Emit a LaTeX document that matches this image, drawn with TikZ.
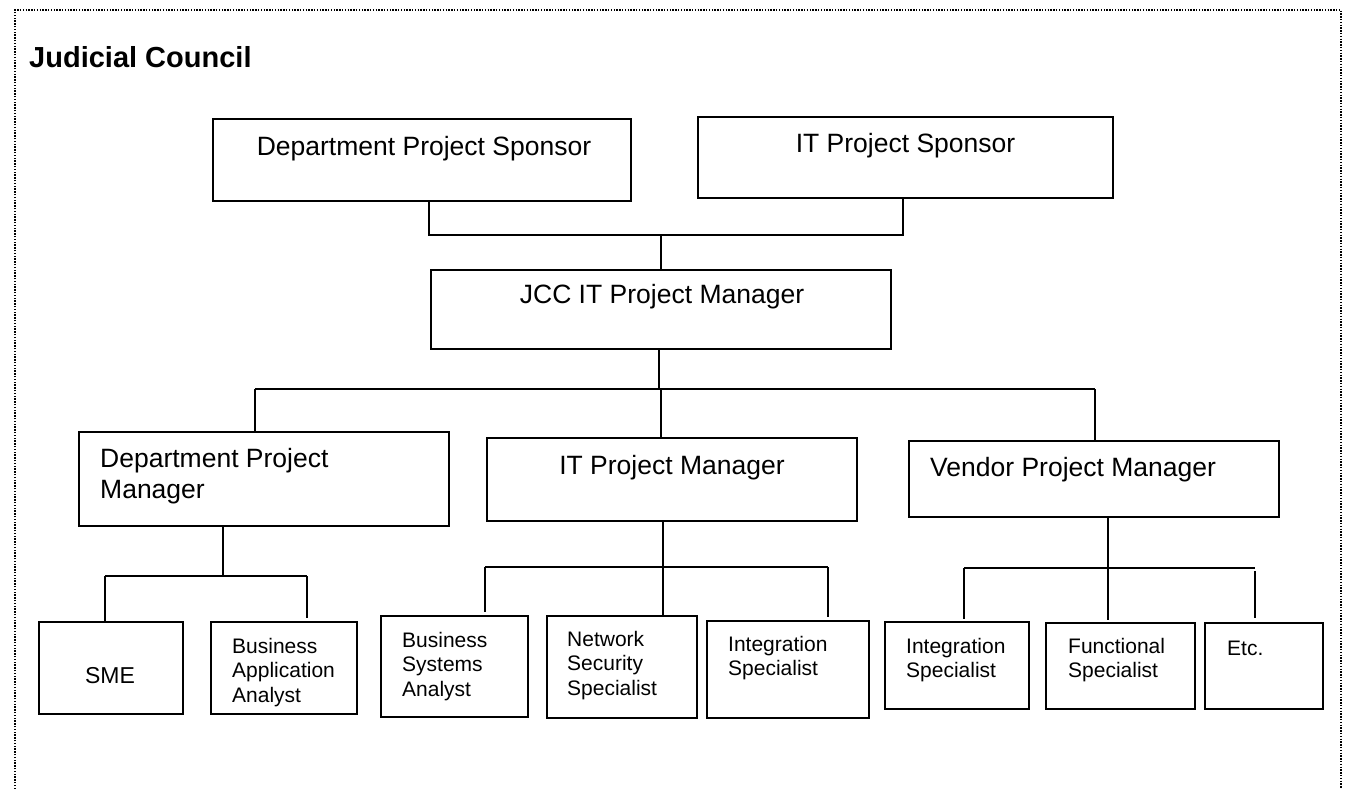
\documentclass[tikz,border=0pt]{standalone}
\usepackage{fontspec}
\setmainfont{Liberation Sans}
\begin{document}
\begin{tikzpicture}[x=1pt,y=-1pt,
  box/.style={draw=black, line width=2pt, inner sep=0pt},
  link/.style={draw=black, line width=2pt},
  frame/.style={draw=black, line width=1.5pt, dash pattern=on 1.4pt off 1.4pt},
  bigtext/.style={font=\fontsize{26.5}{31}\selectfont, inner sep=0pt},
  smalltext/.style={font=\fontsize{21}{24.5}\selectfont, inner sep=0pt, align=left},
  titletext/.style={font=\fontsize{29}{34}\selectfont\bfseries, inner sep=0pt}]

\useasboundingbox (0,0) rectangle (1346,789);

% dotted outer frame, open at the bottom
\coordinate (fbl) at (15,789);
\coordinate (ftl) at (15,10);
\coordinate (ftr) at (1341,10);
\coordinate (fbr) at (1341,789);
\draw[frame] (fbl) -- (ftl) -- (ftr) -- (fbr);

\node[titletext, anchor=base west] (title) at (29,68) {Judicial Council};

% sponsors
\node[box, minimum width=418pt, minimum height=82pt] (dps) at (422,160) {};
\node[box, minimum width=415pt, minimum height=81pt] (its) at (905.5,157.5) {};
\node[bigtext, anchor=base] (dpsT) at (424,155) {Department Project Sponsor};
\node[bigtext, anchor=base] (itsT) at (905.5,153) {IT Project Sponsor};

% JCC manager
\node[box, minimum width=460pt, minimum height=79pt] (jcc) at (661,309.5) {};
\node[bigtext, anchor=base] (jccT) at (662,303) {JCC IT Project Manager};

% second level managers
\node[box, minimum width=370pt, minimum height=94pt] (dpm) at (264,479) {};
\node[bigtext, align=left, anchor=north west] (dpmT) at (100,448) {Department Project\\Manager};
\node[box, minimum width=370pt, minimum height=83pt] (itpm) at (672,479.5) {};
\node[bigtext, anchor=base] (itpmT) at (672,474) {IT Project Manager};
\node[box, minimum width=370pt, minimum height=76pt] (vpm) at (1094,479) {};
\node[bigtext, anchor=base west] (vpmT) at (930,476) {Vendor Project Manager};

% department team
\node[box, minimum width=144pt, minimum height=92pt] (sme) at (111,668) {};
\node[font=\fontsize{23}{27}\selectfont, inner sep=0pt, anchor=base] (smeT) at (110,683) {SME};
\node[box, minimum width=146pt, minimum height=92pt] (baa) at (284,668) {};
\node[smalltext, anchor=north west] (baaT) at (232,638) {Business\\Application\\Analyst};

% IT team
\node[box, minimum width=147pt, minimum height=101pt] (bsa) at (454.5,666.5) {};
\node[smalltext, anchor=north west] (bsaT) at (402,632) {Business\\Systems\\Analyst};
\node[box, minimum width=150pt, minimum height=102pt] (nss) at (622,667) {};
\node[smalltext, anchor=north west] (nssT) at (567,631) {Network\\Security\\Specialist};
\node[box, minimum width=162pt, minimum height=97pt] (iis) at (788,669.5) {};
\node[smalltext, anchor=north west] (iisT) at (728,636) {Integration\\Specialist};

% vendor team
\node[box, minimum width=144pt, minimum height=87pt] (vis) at (957,665.5) {};
\node[smalltext, anchor=north west] (visT) at (906,638) {Integration\\Specialist};
\node[box, minimum width=149pt, minimum height=86pt] (fs) at (1120.5,666) {};
\node[smalltext, anchor=north west] (fsT) at (1068,638) {Functional\\Specialist};
\node[box, minimum width=118pt, minimum height=86pt] (etc) at (1264,666) {};
\node[smalltext, anchor=base west] (etcT) at (1227,655) {Etc.};

% sponsors to JCC manager
\coordinate (tb) at (661,234.5);
\draw[link] ([xshift=7pt]dps.south) |- (tb) -| ([xshift=-2.5pt]its.south);
\draw[link] (tb) -- (jcc.north);

% JCC manager to the three managers
\coordinate (mbL) at (255,389);
\coordinate (mbR) at (1095,389);
\draw[link] (mbL) -- (mbR);
\draw[link] ([xshift=-2pt]jcc.south) -- ([xshift=-2pt]jcc.south |- mbL);
\draw[link] (mbL) -- (mbL |- dpm.north);
\draw[link] ([xshift=-11pt]itpm.north) -- ([xshift=-11pt]itpm.north |- mbL);
\draw[link] (mbR) -- (mbR |- vpm.north);

% department manager to team
\coordinate (dbL) at (105,576);
\coordinate (dbR) at (307,576);
\draw[link] ([xshift=-41pt]dpm.south) -- ([xshift=-41pt]dpm.south |- dbL);
\draw[link] (dbL) -- (dbR);
\draw[link] (dbL) -- (dbL |- sme.north);
\draw[link] (dbR) -- ([yshift=3pt]dbR |- baa.north);

% IT manager to team
\coordinate (ibL) at (485,567);
\coordinate (ibM) at (663,567);
\coordinate (ibR) at (828,567);
\draw[link] ([xshift=-9pt]itpm.south) -- (ibM);
\draw[link] (ibL) -- (ibR);
\draw[link] (ibL) -- ([yshift=3pt]ibL |- bsa.north);
\draw[link] (ibM) -- (ibM |- nss.north);
\draw[link] (ibR) -- ([yshift=3pt]ibR |- iis.north);

% vendor manager to team
\coordinate (vbL) at (964,568);
\coordinate (vbM) at (1108,568);
\coordinate (vbR) at (1255,568);
\draw[link] ([xshift=14pt]vpm.south) -- (vbM);
\draw[link] (vbL) -- (vbR);
\draw[link] (vbL) -- ([yshift=2pt]vbL |- vis.north);
\draw[link] (vbM) -- ([yshift=2pt]vbM |- fs.north);
\draw[link] ([yshift=-3pt]vbR) -- ([yshift=4pt]vbR |- etc.north);
\end{tikzpicture}
\end{document}
